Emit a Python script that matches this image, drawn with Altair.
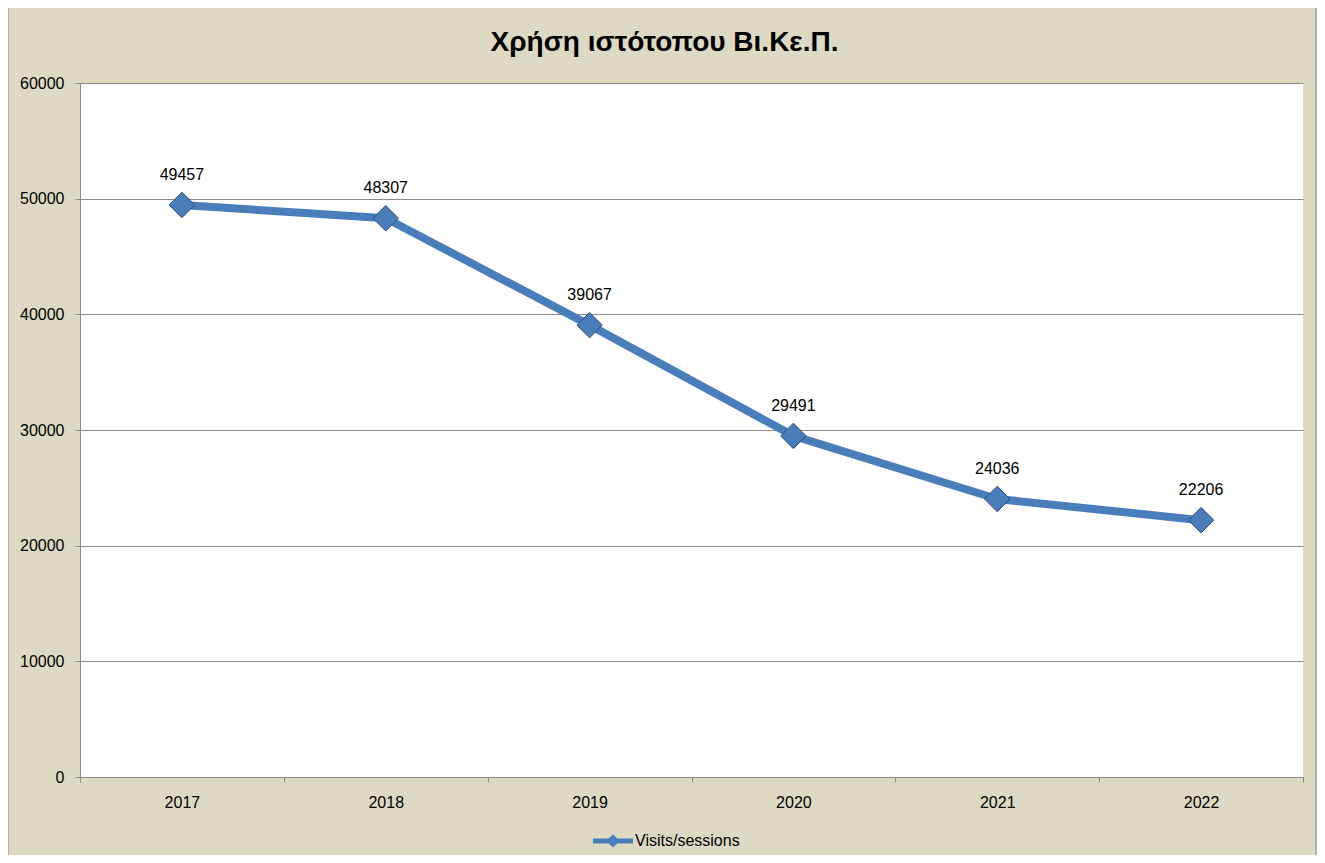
import altair as alt
import pandas as pd

years = ["2017", "2018", "2019", "2020", "2021", "2022"]
visits = [49457, 48307, 39067, 29491, 24036, 22206]
series_name = "Visits/sessions"
title_text = "Χρήση ιστότοπου Βι.Κε.Π."
y_ticks = [0, 10000, 20000, 30000, 40000, 50000, 60000]

df = pd.DataFrame({"year": years, "value": visits, "series": [series_name] * len(years)})
title_df = pd.DataFrame({"t": [title_text]})

FONT = "Liberation Sans"
BLUE = "#4A7EBB"
W, H = 1223, 694

x_enc = alt.X("year:N", bandPosition=0.5,
              scale=alt.Scale(type="band", paddingInner=0, paddingOuter=0),
              axis=alt.Axis(title=None, labelAngle=0, tickBand="extent", grid=False,
                            domainColor="#8c8c8c", tickColor="#8c8c8c", tickSize=5,
                            labelPadding=12, labelFontSize=16, labelColor="#000000"))
y_enc = alt.Y("value:Q",
              scale=alt.Scale(domain=[0, 60000], nice=False),
              axis=alt.Axis(title=None, values=y_ticks, format="d", grid=True, gridColor="#8c8c8c",
                            domainColor="#8c8c8c", tickColor="#8c8c8c", tickSize=5,
                            labelPadding=11, labelFontSize=16, labelColor="#000000"))

base = alt.Chart(df)

frame = alt.Chart(title_df).mark_rect(fill=None, stroke="#8c8c8c", strokeWidth=1, clip=False).encode(
    x=alt.value(-72), x2=alt.value(W + 13), y=alt.value(-76), y2=alt.value(H + 100)
)

title = alt.Chart(title_df).mark_text(fontSize=28, fontWeight="bold", font=FONT, color="#000000",
                                      align="center", baseline="middle").encode(
    x=alt.value(W / 2 - 27), y=alt.value(-40), text="t:N"
)

line = base.mark_line(color=BLUE, strokeWidth=8, strokeJoin="round").encode(x=x_enc, y=y_enc)

legend_path = ("M-1,-0.13 L-0.22,-0.13 L0,-0.33 L0.22,-0.13 L1,-0.13 L1,0.13 "
               "L0.22,0.13 L0,0.33 L-0.22,0.13 L-1,0.13 Z")

points = base.mark_point(shape="diamond", filled=True, size=650, opacity=1,
                         stroke="#2C4D75", strokeWidth=1).encode(
    x=x_enc, y=y_enc,
    color=alt.Color("series:N", scale=alt.Scale(range=[BLUE]),
                    legend=alt.Legend(title=None, orient="none", legendX=513, legendY=738,
                                      symbolType=legend_path, symbolSize=1600,
                                      symbolStrokeWidth=0, labelFontSize=16,
                                      labelColor="#000000", labelFont=FONT, labelOffset=2,
                                      direction="horizontal"))
)

labels = base.mark_text(dy=-30, fontSize=16, color="#000000", font=FONT, baseline="middle").encode(
    x=x_enc, y=y_enc, text=alt.Text("value:Q", format="d")
)

chart = alt.layer(frame, title, line, points, labels).properties(
    width=W, height=H,
    autosize=alt.AutoSizeParams(type="none"),
    padding={"left": 72, "top": 75, "right": 14, "bottom": 78},
    background="#DDD9C3",
).configure_view(stroke=None, fill="#FFFFFF").configure_axis(labelFont=FONT)

chart.save("out.html", embed_options={"renderer": "svg", "actions": False})
